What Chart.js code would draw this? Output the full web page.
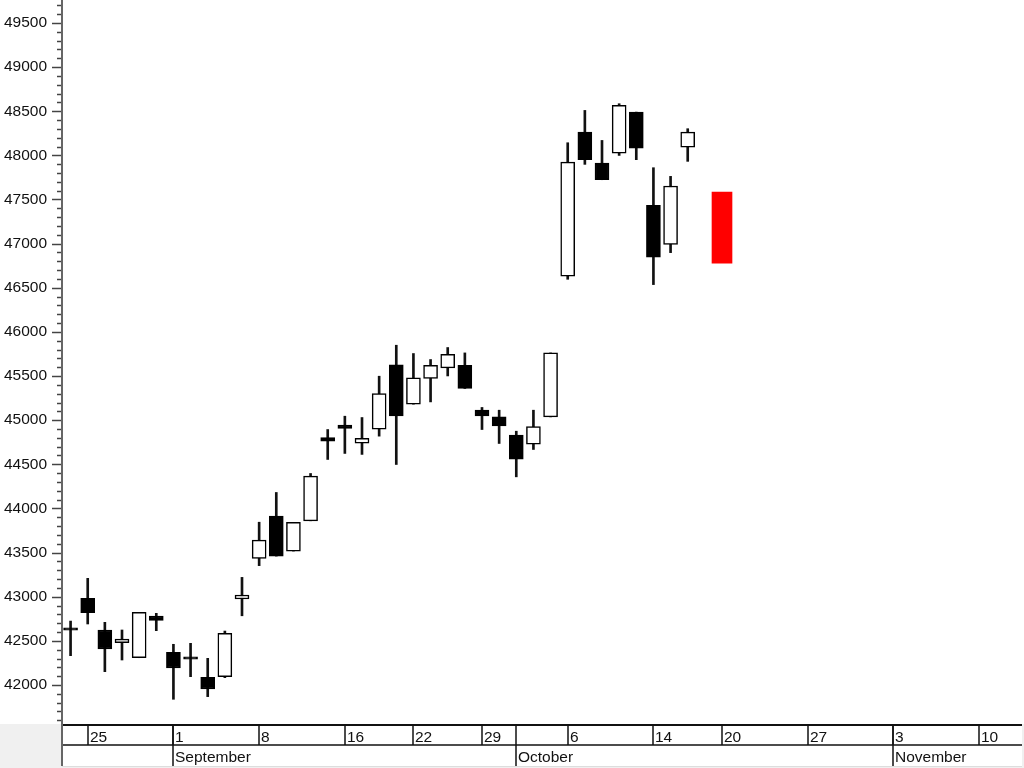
<!DOCTYPE html>
<html><head><meta charset="utf-8">
<script src="https://cdn.jsdelivr.net/npm/chart.js@4.4.1/dist/chart.umd.min.js"></script>
<style>html,body{margin:0;padding:0;background:#fff;overflow:hidden}#wrap{width:1024px;height:768px;position:relative}</style>
</head><body><div id="wrap"><canvas id="c" width="1024" height="768"></canvas></div>
<script>
// Trading days (MM-DD), 2025
const dates = ['08-22',
 '08-25','08-26','08-27','08-28','08-29',
 '09-01','09-02','09-03','09-04','09-05',
 '09-08','09-09','09-10','09-11','09-12',
 '09-16','09-17','09-18','09-19',
 '09-22','09-24','09-25','09-26',
 '09-29','09-30','10-01','10-02','10-03',
 '10-06','10-07','10-08','10-09','10-10',
 '10-14','10-15','10-16','10-17',
 '10-20','10-21','10-22','10-23','10-24',
 '10-27','10-28','10-29','10-30','10-31',
 '11-03','11-04','11-05','11-06','11-07',
 '11-10','11-11','11-12'];
const opens  = [42640,42981,42623,42479,42309,42781,42370,42312,42087,42094,42974,43434,43913,43517,43860,44804,44943,44739,44898,45626,45181,45472,45592,45622,45113,45037,44830,44728,45037,46630,48263,47912,48026,48490,47434,46992,48094];
const highs  = [42724,43208,42710,42623,42822,42812,42461,42472,42302,42611,43219,43844,44181,43842,44396,44894,45045,45030,45498,45849,45755,45687,45823,45762,45144,45113,44875,45113,45762,48143,48509,48169,48585,48490,47860,47762,48302];
const lows   = [42332,42691,42151,42283,42309,42615,41838,42094,41868,42083,42784,43352,43460,43517,43860,44555,44623,44612,44819,44498,45181,45207,45501,45359,44894,44736,44358,44668,45037,46596,47898,47724,47999,47951,46536,46898,47932];
const closes = [42620,42818,42408,42521,42822,42732,42192,42292,41955,42585,43019,43641,43460,43842,44366,44762,44906,44793,45302,45048,45479,45622,45747,45359,45048,44935,44558,44926,45762,47924,47951,47724,48566,48082,46848,47653,48263];
// Highlighted range (red box)
const markerDate = '10-20';
const markerRange = [46780, 47584];
// Axis labels
const dayTickDates   = ['08-25','09-01','09-08','09-16','09-22','09-29','10-06','10-14','10-20','10-27','11-03','11-10'];
const dayTickLabels  = ['25','1','8','16','22','29','6','14','20','27','3','10'];
const monthTickDates  = ['09-01','10-01','11-03'];
const monthTickLabels = ['September','October','November'];
const yMin = 41558, yMax = 49760, yStep = 100, yLabelStep = 500;

const FONT = "'Liberation Sans', Arial, sans-serif";
const bodyData = dates.map((d,i)=> i<opens.length ? [opens[i], closes[i]] : null);
const wickData = dates.map((d,i)=> i<highs.length ? [lows[i], highs[i]] : null);
const bodyColors = dates.map((d,i)=> i<opens.length && closes[i] < opens[i] ? '#000' : '#fff');
const markerData = dates.map(d => d === markerDate ? markerRange : null);

const axisPlugin = {
  id:'axisRows',
  afterDraw(chart){
    const ctx = chart.ctx, ca = chart.chartArea, xs = chart.scales.x, ys = chart.scales.y;
    const top = ca.bottom, mid = top + 21, bot = top + 42;
    ctx.save();
    ctx.fillStyle = '#f0f0f0';
    ctx.fillRect(0, top, chart.width, chart.height - top);
    ctx.fillStyle = '#fff';
    ctx.fillRect(ca.left, top, ca.right - ca.left, bot - top);
    // y tick marks
    ctx.strokeStyle = '#444'; ctx.lineWidth = 1.5;
    ys.ticks.forEach(t => {
      const y = Math.round(ys.getPixelForValue(t.value)) + 0.5;
      const major = t.value % yLabelStep === 0;
      ctx.beginPath(); ctx.moveTo(ca.left - (major ? 10 : 5), y); ctx.lineTo(ca.left, y); ctx.stroke();
    });
    // horizontal rows
    ctx.strokeStyle = '#111'; ctx.lineWidth = 2;
    ctx.beginPath(); ctx.moveTo(ca.left, top + 1); ctx.lineTo(ca.right, top + 1); ctx.stroke();
    ctx.lineWidth = 1.5;
    ctx.beginPath(); ctx.moveTo(ca.left, mid); ctx.lineTo(ca.right, mid); ctx.stroke();
    ctx.strokeStyle = '#ddd'; ctx.lineWidth = 1;
    ctx.beginPath(); ctx.moveTo(ca.left, bot + 0.5); ctx.lineTo(ca.right, bot + 0.5); ctx.stroke();
    // day ticks
    ctx.font = '15.5px ' + FONT; ctx.fillStyle = '#111'; ctx.textBaseline = 'alphabetic'; ctx.textAlign = 'left';
    ctx.strokeStyle = '#111'; ctx.lineWidth = 1.5;
    dayTickDates.forEach((d, k) => {
      const x = Math.round(xs.getPixelForValue(dates.indexOf(d)));
      ctx.beginPath(); ctx.moveTo(x, top); ctx.lineTo(x, mid); ctx.stroke();
      ctx.fillText(dayTickLabels[k], x + 2, top + 17.5);
    });
    monthTickDates.forEach((d, k) => {
      const x = Math.round(xs.getPixelForValue(dates.indexOf(d)));
      ctx.beginPath(); ctx.moveTo(x, top); ctx.lineTo(x, bot); ctx.stroke();
      ctx.fillText(monthTickLabels[k], x + 2, mid + 16.5);
    });
    // y axis line
    ctx.strokeStyle = '#666'; ctx.lineWidth = 2;
    ctx.beginPath(); ctx.moveTo(ca.left, 0); ctx.lineTo(ca.left, bot); ctx.stroke();
    ctx.restore();
  }
};

new Chart(document.getElementById('c'), {
  type: 'bar',
  data: {
    labels: dates,
    datasets: [
      { label:'body', data: bodyData, backgroundColor: bodyColors, borderColor:'#000', borderWidth:1.5,
        borderSkipped:false, barThickness:14, grouped:false, order:0, minBarLength:2.5 },
      { label:'wick', data: wickData, backgroundColor:'#111', borderWidth:0, barThickness:2, grouped:false, order:1 },
      { label:'marker', data: markerData, backgroundColor:'#ff0000', borderWidth:0, barThickness:20, grouped:false, order:2 }
    ]
  },
  options: {
    responsive:false, animation:false, devicePixelRatio:1,
    layout:{ padding:{ left:0, right:2, top:0, bottom:0 } },
    plugins:{ legend:{display:false}, tooltip:{enabled:false} },
    scales:{
      x:{ type:'category', offset:true, stacked:false,
          grid:{display:false, drawTicks:false}, border:{display:false}, ticks:{display:false},
          afterFit(s){ s.height = 44; s.paddingLeft = 0; s.paddingRight = 0; } },
      y:{ type:'linear', min:yMin, max:yMax, stacked:false,
          grid:{display:false, drawTicks:false}, border:{display:false},
          afterBuildTicks(s){ const t=[]; for(let v=Math.ceil(yMin/yStep)*yStep; v<=yMax; v+=yStep) t.push({value:v}); s.ticks=t; },
          ticks:{ autoSkip:false, padding:15, color:'#111', font:{family:FONT, size:15.5},
                  callback:(v)=> v % yLabelStep === 0 ? String(v) : '' },
          afterFit(s){ s.width = 62; s.paddingTop = 0; s.paddingBottom = 0; } }
    }
  },
  plugins:[axisPlugin]
});
</script></body></html>
